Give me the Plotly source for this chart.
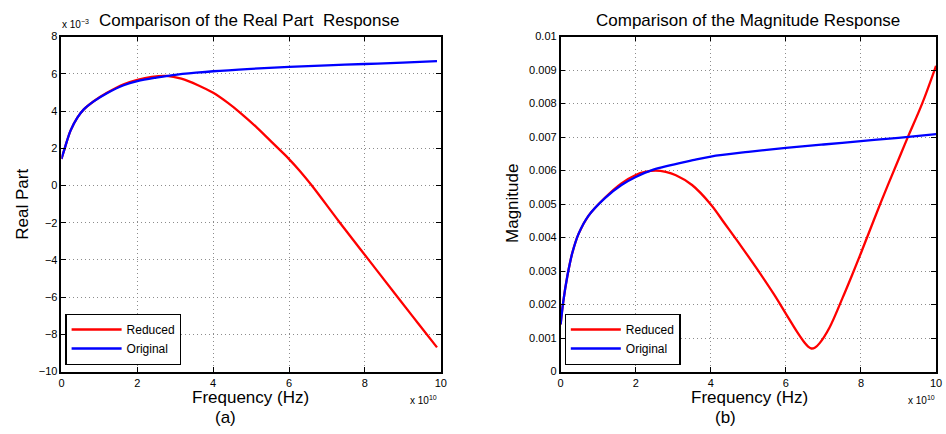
import plotly.graph_objects as go

# ---------------- data ----------------
# (a) real part, frequency in units of 1e10 Hz, values in units of 1e-3
freq_a_original = [0, 0.087, 0.24, 0.42, 0.59, 0.85, 1.2, 1.64, 2.0, 2.5, 2.94, 3.55, 4.0, 5.0, 6.0, 7.0, 8.0, 9.0, 9.9]
real_original = [1.43, 2.0, 2.95, 3.65, 4.09, 4.52, 4.96, 5.39, 5.61, 5.80, 5.93, 6.06, 6.14, 6.27, 6.38, 6.46, 6.53, 6.60, 6.68]

freq_a_reduced = [0, 0.087, 0.24, 0.42, 0.59, 0.85, 1.2, 1.64, 2.0, 2.38, 2.77, 3.16, 3.6, 4.0, 4.38, 4.73,
                  5.16, 5.6, 6.0, 6.29, 6.6, 7.34, 8.12, 8.9, 9.4, 9.9]
real_reduced = [1.43, 2.0, 2.95, 3.65, 4.09, 4.53, 4.98, 5.44, 5.68, 5.84, 5.89, 5.74, 5.39, 4.98, 4.45, 3.88,
                3.10, 2.22, 1.42, 0.77, 0.0, -2.0, -4.05, -6.1, -7.4, -8.7]

# (b) magnitude, frequency in units of 1e10 Hz
freq_b_original = [0, 0.07, 0.18, 0.31, 0.48, 0.74, 1.18, 1.62, 2.0, 2.47, 3.52, 4.0, 5.0, 6.0, 7.0, 8.0, 9.0, 10.0]
mag_original = [0.00141, 0.00209, 0.00286, 0.00354, 0.00412, 0.00465, 0.00518, 0.00557, 0.00581, 0.00603,
                0.00631, 0.00642, 0.00656, 0.00668, 0.00678, 0.00688, 0.00698, 0.00709]

freq_b_reduced = [0, 0.07, 0.18, 0.31, 0.48, 0.74, 1.18, 1.62, 2.0, 2.25, 2.53, 2.8, 3.07, 3.5, 4.0, 4.37,
                  4.81, 5.24, 5.68, 6.01, 6.29, 6.5, 6.6, 6.68, 6.78, 6.9, 7.16, 7.51, 7.77, 8.0, 8.54,
                  9.07, 9.26, 9.63, 10.0]
mag_reduced = [0.00141, 0.00209, 0.00286, 0.00354, 0.00412, 0.00465, 0.00519, 0.00562, 0.00587, 0.00596,
               0.00600, 0.00596, 0.00586, 0.00557, 0.00499, 0.00442, 0.00374, 0.00305, 0.00231, 0.00171,
               0.00120, 0.00086, 0.00074, 0.00069, 0.00072, 0.00085, 0.00131, 0.00220, 0.00290, 0.00354,
               0.00508, 0.00652, 0.00703, 0.00800, 0.00913]

x_tickvals = [0, 2, 4, 6, 8, 10]
x_ticktext = ["0", "2", "4", "6", "8", "10"]
ya_tickvals = [-10, -8, -6, -4, -2, 0, 2, 4, 6, 8]
ya_ticktext = ["\u221210", "\u22128", "\u22126", "\u22124", "\u22122", "0", "2", "4", "6", "8"]
yb_tickvals = [0, 0.001, 0.002, 0.003, 0.004, 0.005, 0.006, 0.007, 0.008, 0.009, 0.01]
yb_ticktext = ["0", "0.001", "0.002", "0.003", "0.004", "0.005", "0.006", "0.007", "0.008", "0.009", "0.01"]

# ---------------- figure ----------------
W, H = 946, 434
FONT = "Liberation Sans, Arial, Helvetica, sans-serif"
RED = "#ff0000"
BLUE = "#0000ff"
LW = 2.3
SM = 1.0

fig = go.Figure()
fig.add_trace(go.Scatter(x=freq_a_reduced, y=real_reduced, mode="lines", name="Reduced",
                         line=dict(color=RED, width=LW, shape="spline", smoothing=SM),
                         xaxis="x", yaxis="y", legend="legend"))
fig.add_trace(go.Scatter(x=freq_a_original, y=real_original, mode="lines", name="Original",
                         line=dict(color=BLUE, width=LW, shape="spline", smoothing=SM),
                         xaxis="x", yaxis="y", legend="legend"))
fig.add_trace(go.Scatter(x=freq_b_reduced, y=mag_reduced, mode="lines", name="Reduced",
                         line=dict(color=RED, width=LW, shape="spline", smoothing=SM),
                         xaxis="x2", yaxis="y2", legend="legend2"))
fig.add_trace(go.Scatter(x=freq_b_original, y=mag_original, mode="lines", name="Original",
                         line=dict(color=BLUE, width=LW, shape="spline", smoothing=SM),
                         xaxis="x2", yaxis="y2", legend="legend2"))

ydom = [(H - 376) / H, (H - 31.5) / H]
common = dict(showline=True, linecolor="black", linewidth=1.6, mirror="ticks",
              ticks="inside", ticklen=5, tickcolor="black", tickwidth=1,
              showgrid=True, gridcolor="#8c8c8c", griddash="1px,3px", gridwidth=1,
              zeroline=False, tickfont=dict(family=FONT, size=11, color="black"))

fig.update_layout(
    width=W, height=H,
    margin=dict(l=0, r=0, t=0, b=0),
    paper_bgcolor="white", plot_bgcolor="white",
    font=dict(family=FONT, color="black"),
    xaxis=dict(domain=[59 / W, 442 / W], range=[0, 10], anchor="y",
               tickmode="array", tickvals=x_tickvals, ticktext=x_ticktext, **common),
    yaxis=dict(domain=ydom, range=[-10, 8], anchor="x",
               tickmode="array", tickvals=ya_tickvals, ticktext=ya_ticktext, **common),
    xaxis2=dict(domain=[563 / W, 942 / W], range=[0, 10], anchor="y2",
                tickmode="array", tickvals=x_tickvals, ticktext=x_ticktext, **common),
    yaxis2=dict(domain=ydom, range=[0, 0.01], anchor="x2",
                tickmode="array", tickvals=yb_tickvals, ticktext=yb_ticktext, **common),
    legend=dict(x=63 / W, y=(H - 369) / H, xanchor="left", yanchor="bottom",
                bgcolor="white", bordercolor="black", borderwidth=1.2,
                font=dict(family=FONT, size=12, color="black"), itemwidth=50),
    legend2=dict(x=567 / W, y=(H - 369) / H, xanchor="left", yanchor="bottom",
                 bgcolor="white", bordercolor="black", borderwidth=1.2,
                 font=dict(family=FONT, size=12, color="black"), itemwidth=50),
    showlegend=True,
)

def ann(text, x, y, size, xanchor="center", yanchor="middle", angle=0):
    fig.add_annotation(text=text, x=x / W, y=1 - y / H, xref="paper", yref="paper",
                       xanchor=xanchor, yanchor=yanchor, showarrow=False, textangle=angle,
                       font=dict(family=FONT, size=size, color="black"))

ann("Comparison of the Real Part\u00a0 Response", 249, 15, 17)
ann("Comparison of the Magnitude Response", 752, 15, 17)
ann("x 10<sup>\u22123</sup>", 58, 18, 10, xanchor="left")
ann("Frequency (Hz)", 250, 403, 17)
ann("Frequency (Hz)", 754, 403, 17)
ann("(a)", 225, 423, 17)
ann("(b)", 729, 423, 17)
ann("x 10<sup>10</sup>", 409, 405, 10, xanchor="left")
ann("x 10<sup>10</sup>", 912, 405, 10, xanchor="left")
ann("Real Part", 20, 203.5, 17, angle=-90)
ann("Magnitude", 515, 203.5, 17, angle=-90)

fig.write_html("out.html")
